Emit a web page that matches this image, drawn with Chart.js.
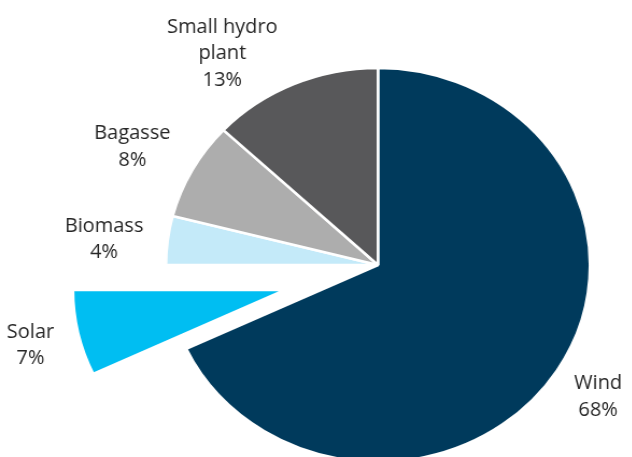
<!DOCTYPE html>
<html lang="en">
<head>
  <meta charset="UTF-8" />
  <title>Renewable capacity mix</title>
  <script src="https://cdn.jsdelivr.net/npm/chart.js"></script>
  <style>
    html, body {
      margin: 0;
      padding: 0;
      background: #fff;
      overflow: hidden;
      width: 632px;
      height: 457px;
    }
    /* the source pie is a bit wider than tall, so stretch the canvas sideways */
    .wrap {
      position: absolute;
      left: 0;
      top: 0;
      transform: scaleX(1.076);
      transform-origin: 0 0;
    }
  </style>
</head>
<body>
  <div class="wrap">
    <canvas id="mixChart" width="590" height="457"></canvas>
  </div>

  <script>
    const sources = ["Wind", "Solar", "Biomass", "Bagasse", "Small hydro plant"];
    const shares = [68, 7, 4, 8, 13];
    const sliceColours = ["#003a5c", "#00bef2", "#c4eaf9", "#adadad", "#58585a"];

    const STRETCH = 1.076;
    // pulled-out slice: index, how far it moves out, and a small nudge of the direction (deg)
    const EXPLODE = { index: 1, dist: 90, turn: -3.5 };
    // label placement: distance from centre as a share of the radius, and a small angle nudge (deg)
    const labelSpots = [
      { k: 1.23, turn: 0 },
      { k: 1.23, turn: -1 },
      { k: 1.30, turn: -1 },
      { k: 1.31, turn: -1 },
      { k: 1.31, turn: -10.7 }
    ];

    function midAngle(p) {
      return (p.startAngle + p.endAngle) / 2;
    }

    // Chart.js only moves an offset slice by offset/4 and grows it, so do the pull-out by hand
    const explodeSlice = {
      id: "explodeSlice",
      beforeDatasetsDraw(chart) {
        chart.getDatasetMeta(0).data[EXPLODE.index].hidden = true;
      },
      afterDatasetsDraw(chart) {
        const arc = chart.getDatasetMeta(0).data[EXPLODE.index];
        arc.hidden = false;
        const p = arc.getProps(["x", "y", "startAngle", "endAngle"], true);
        const a = midAngle(p) + EXPLODE.turn * Math.PI / 180;
        const ctx = chart.ctx;
        ctx.save();
        ctx.translate(Math.cos(a) * EXPLODE.dist, Math.sin(a) * EXPLODE.dist);
        arc.draw(ctx);
        ctx.restore();
      }
    };

    const sliceLabels = {
      id: "sliceLabels",
      afterDraw(chart) {
        const ctx = chart.ctx;
        const arcs = chart.getDatasetMeta(0).data;
        ctx.save();
        ctx.font = "20px 'Open Sans', sans-serif";
        ctx.fillStyle = "#262626";
        ctx.textAlign = "center";
        ctx.textBaseline = "middle";
        arcs.forEach((arc, i) => {
          const p = arc.getProps(["x", "y", "startAngle", "endAngle", "outerRadius"], true);
          const spot = labelSpots[i];
          const mid = midAngle(p) + spot.turn * Math.PI / 180;
          const pulled = i === EXPLODE.index ? EXPLODE.dist : 0;
          const dist = p.outerRadius * spot.k + pulled;
          const x = p.x + Math.cos(mid) * dist;
          const y = p.y + Math.sin(mid) * dist + 2;
          let lines = [sources[i], shares[i] + "%"];
          if (sources[i] === "Small hydro plant") lines = ["Small hydro", "plant", shares[i] + "%"];
          const lh = 26.5;
          const top = y - (lines.length - 1) * lh / 2;
          lines.forEach((t, j) => {
            ctx.save();
            ctx.translate(x, top + j * lh);
            ctx.scale(1 / STRETCH, 1);
            ctx.fillText(t, 0, 0);
            ctx.restore();
          });
        });
        ctx.restore();
      }
    };

    new Chart(document.getElementById("mixChart"), {
      type: "pie",
      data: {
        labels: sources,
        datasets: [{
          data: shares,
          backgroundColor: sliceColours,
          borderColor: "#ffffff",
          borderWidth: 2.5,
          hoverBorderWidth: 2.5,
          hoverOffset: 0,
          radius: 197,
          clip: false
        }]
      },
      options: {
        responsive: false,
        animation: false,
        events: [],
        layout: {
          padding: { left: 112.6, right: 0, top: 73, bottom: 0 }
        },
        plugins: {
          legend: { display: false },
          tooltip: { enabled: false }
        }
      },
      plugins: [explodeSlice, sliceLabels]
    });
  </script>
</body>
</html>
